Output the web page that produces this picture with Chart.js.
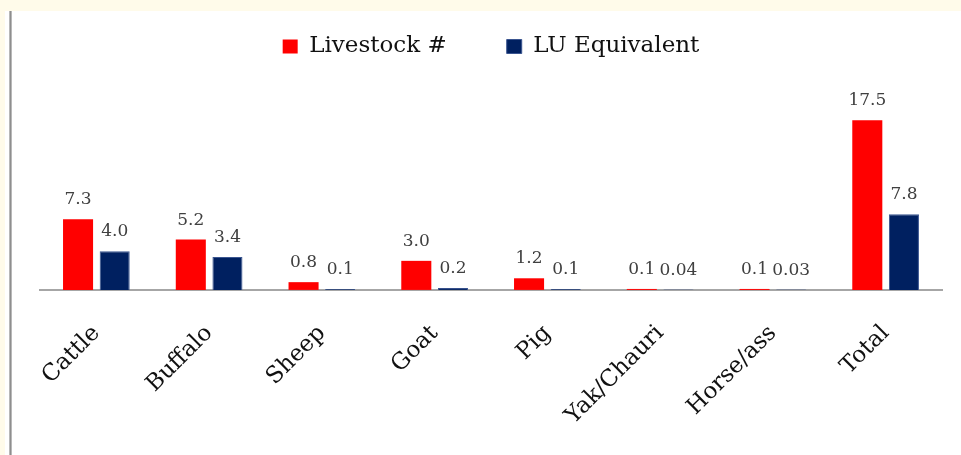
<!DOCTYPE html>
<html><head><meta charset="utf-8">
<script src="https://cdn.jsdelivr.net/npm/chart.js@4.4.0/dist/chart.umd.min.js"></script>
<style>
html,body{margin:0;padding:0;background:#FFFBEA;overflow:hidden;}
canvas{display:block;}
</style>
</head><body>
<canvas id="c" width="961" height="455"></canvas>
<script>
const categories = ['Cattle','Buffalo','Sheep','Goat','Pig','Yak/Chauri','Horse/ass','Total'];
const livestockCount = [7.3, 5.2, 0.8, 3.0, 1.2, 0.1, 0.1, 17.5];
const luEquivalent = [4.0, 3.4, 0.1, 0.2, 0.1, 0.04, 0.03, 7.8];
const seriesNames = ['Livestock #', 'LU Equivalent'];

const SERIF = '"DejaVu Serif", "Liberation Serif", serif';

function fmt(v){ return v < 0.05 ? v.toFixed(2) : v.toFixed(1); }

const bgPlugin = {
  id: 'bg',
  beforeDraw(chart){
    const ctx = chart.ctx;
    ctx.save();
    ctx.fillStyle = '#FFFBEA';
    ctx.fillRect(0, 0, chart.width, chart.height);
    ctx.fillStyle = '#FFFFFF';
    ctx.fillRect(5, 11, chart.width - 5, chart.height - 11);
    ctx.fillStyle = '#B8B8B8';
    ctx.fillRect(9, 11, 3, chart.height - 11);
    ctx.fillStyle = '#8E8E8E';
    ctx.fillRect(10, 11, 1, chart.height - 11);
    ctx.restore();
  }
};

const labelPlugin = {
  id: 'valueLabels',
  afterDatasetsDraw(chart){
    const ctx = chart.ctx;
    ctx.save();
    ctx.font = '17px ' + SERIF;
    ctx.fillStyle = '#404040';
    ctx.textAlign = 'center';
    ctx.textBaseline = 'alphabetic';
    chart.data.datasets.forEach((ds, i) => {
      const meta = chart.getDatasetMeta(i);
      meta.data.forEach((el, j) => {
        ctx.fillText(fmt(ds.data[j]), el.x, el.y - 15);
      });
    });
    ctx.restore();
  }
};

new Chart(document.getElementById('c'), {
  type: 'bar',
  data: {
    labels: categories,
    datasets: [
      { label: seriesNames[0], data: livestockCount, backgroundColor: '#FF0000', borderWidth: 0,
        categoryPercentage: 0.65, barPercentage: 0.82 },
      { label: seriesNames[1], data: luEquivalent, backgroundColor: '#002060', borderColor: '#3A5590', borderWidth: 1,
        categoryPercentage: 0.65, barPercentage: 0.82 }
    ]
  },
  options: {
    responsive: false,
    animation: false,
    devicePixelRatio: 1,
    layout: { padding: { left: 40, right: 19, top: -25, bottom: -5 } },
    plugins: {
      legend: {
        position: 'top',
        labels: {
          font: { family: SERIF, size: 23 },
          color: '#111111',
          boxWidth: 15,
          boxHeight: 14,
          padding: 60
        }
      },
      tooltip: { enabled: false }
    },
    scales: {
      x: {
        grid: { display: false, drawTicks: false },
        border: { display: true, color: '#A6A6A6', width: 2 },
        ticks: {
          font: { family: SERIF, size: 23 },
          color: '#111111',
          minRotation: 45,
          maxRotation: 45,
          padding: 30,
          autoSkip: false
        }
      },
      y: {
        display: false,
        min: 0,
        max: 22.9
      }
    }
  },
  plugins: [bgPlugin, labelPlugin]
});
</script>
</body></html>
